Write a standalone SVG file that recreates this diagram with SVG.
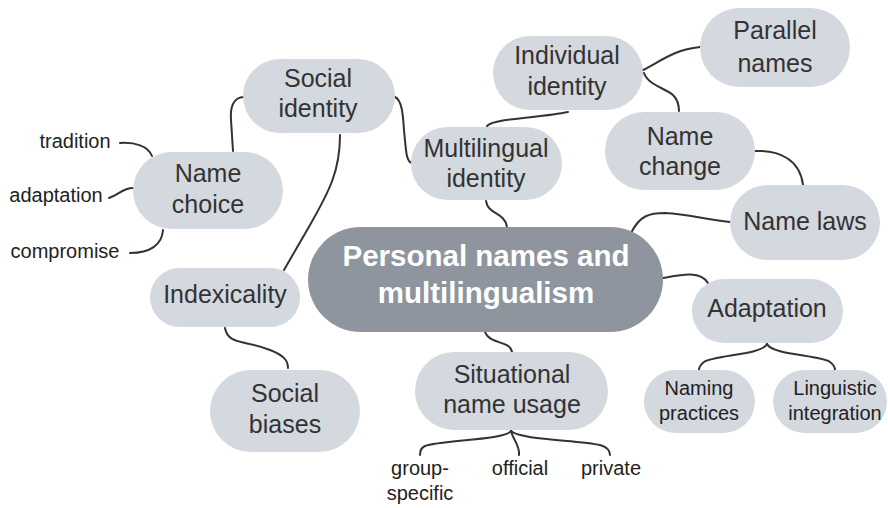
<svg xmlns="http://www.w3.org/2000/svg" width="888" height="508" viewBox="0 0 888 508">
  <style>
    .node { fill: #d4d8df; }
    .hub { fill: #8f959f; }
    .t { font-family: "Liberation Sans", Arial, sans-serif; font-size: 25px; fill: #333333; text-anchor: middle; }
    .s { font-family: "Liberation Sans", Arial, sans-serif; font-size: 20px; fill: #222222; text-anchor: middle; }
    .ht { font-family: "Liberation Sans", Arial, sans-serif; font-size: 29.5px; font-weight: bold; fill: #ffffff; text-anchor: middle; }
    .link { fill: none; stroke: #333333; stroke-width: 2; stroke-linecap: round; }
  </style>
  <rect width="888" height="508" fill="#ffffff"/>

  <g id="connectors">
    <path class="link" d="M244,97 C233,97 230,108 231,120 L233,151"/>
    <path class="link" d="M395,97 C402,100 403,115 404,130 C406,150 406,162 412,163"/>
    <path class="link" d="M340,135 C340,170 330,190 310,225 L284,270"/>
    <path class="link" d="M120,143 C135,142 148,146 152,156"/>
    <path class="link" d="M109,198 C118,195 123,188 133,188"/>
    <path class="link" d="M130,253 C150,253 162,245 163,230"/>
    <path class="link" d="M225,328 C228,345 245,340 270,350 C283,355 288,360 288,368"/>
    <path class="link" d="M487,126 C495,118 540,118 568,112"/>
    <path class="link" d="M643,70 C660,62 672,50 700,47"/>
    <path class="link" d="M644,73 C648,85 665,88 673,95 C678,100 679,105 679,111"/>
    <path class="link" d="M755,151 C780,150 800,160 803,185"/>
    <path class="link" d="M631,233 C640,215 650,213 665,213 C690,214 705,220 730,222"/>
    <path class="link" d="M663,278 C680,275 700,270 708,283"/>
    <path class="link" d="M486,201 C488,215 505,212 507,227"/>
    <path class="link" d="M485,332 C490,345 510,340 512,352"/>
    <path class="link" d="M511,431 C505,440 440,440 425,446 C420,448 420,452 420,455"/>
    <path class="link" d="M511,431 C513,440 520,445 519,455"/>
    <path class="link" d="M511,431 C520,440 580,440 600,445 C607,447 610,450 610,455"/>
    <path class="link" d="M767,344 C762,355 715,355 704,362 C700,365 699,367 699,370"/>
    <path class="link" d="M767,344 C772,355 820,355 830,362 C834,365 835,367 835,370"/>
  </g>

  <g id="hub">
    <rect class="hub" x="308" y="227" width="355" height="105" rx="52.5"/>
    <text class="ht" x="486" y="266">Personal names and</text>
    <text class="ht" x="486" y="303">multilingualism</text>
  </g>

  <g id="social-identity">
    <rect class="node" x="243" y="59" width="152" height="74" rx="37"/>
    <text class="t" x="318" y="87">Social</text>
    <text class="t" x="318" y="117">identity</text>
  </g>

  <g id="name-choice">
    <rect class="node" x="133" y="152" width="150" height="77" rx="38.5"/>
    <text class="t" x="208" y="182">Name</text>
    <text class="t" x="208" y="213">choice</text>
  </g>

  <g id="tradition">
    <text class="s" x="75" y="148">tradition</text>
  </g>
  <g id="adaptation-choice">
    <text class="s" x="56" y="202">adaptation</text>
  </g>
  <g id="compromise">
    <text class="s" x="65" y="258">compromise</text>
  </g>

  <g id="indexicality">
    <rect class="node" x="150" y="268" width="150" height="59" rx="29.5"/>
    <text class="t" x="225" y="303">Indexicality</text>
  </g>

  <g id="social-biases">
    <rect class="node" x="210" y="370" width="150" height="82" rx="41"/>
    <text class="t" x="285" y="402">Social</text>
    <text class="t" x="285" y="433">biases</text>
  </g>

  <g id="multilingual-identity">
    <rect class="node" x="411" y="127" width="151" height="73" rx="36.5"/>
    <text class="t" x="486" y="157">Multilingual</text>
    <text class="t" x="486" y="187">identity</text>
  </g>

  <g id="individual-identity">
    <rect class="node" x="493" y="36" width="150" height="74" rx="37"/>
    <text class="t" x="567" y="64">Individual</text>
    <text class="t" x="567" y="95">identity</text>
  </g>

  <g id="parallel-names">
    <rect class="node" x="700" y="8" width="150" height="79" rx="39.5"/>
    <text class="t" x="775" y="39">Parallel</text>
    <text class="t" x="775" y="72">names</text>
  </g>

  <g id="name-change">
    <rect class="node" x="605" y="112" width="150" height="78" rx="39"/>
    <text class="t" x="680" y="145">Name</text>
    <text class="t" x="680" y="175">change</text>
  </g>

  <g id="name-laws">
    <rect class="node" x="730" y="185" width="150" height="75" rx="37.5"/>
    <text class="t" x="805" y="230">Name laws</text>
  </g>

  <g id="adaptation">
    <rect class="node" x="692" y="279" width="151" height="64" rx="32"/>
    <text class="t" x="767" y="317">Adaptation</text>
  </g>

  <g id="naming-practices">
    <rect class="node" x="644" y="370" width="111" height="63" rx="31.5"/>
    <text class="s" x="699" y="395">Naming</text>
    <text class="s" x="699" y="420">practices</text>
  </g>

  <g id="linguistic-integration">
    <rect class="node" x="773" y="370" width="114" height="63" rx="31.5"/>
    <text class="s" x="835" y="395">Linguistic</text>
    <text class="s" x="835" y="420">integration</text>
  </g>

  <g id="situational-name-usage">
    <rect class="node" x="415" y="352" width="193" height="78" rx="39"/>
    <text class="t" x="512" y="383">Situational</text>
    <text class="t" x="512" y="413">name usage</text>
  </g>

  <g id="group-specific">
    <text class="s" x="420" y="475">group-</text>
    <text class="s" x="420" y="500">specific</text>
  </g>
  <g id="official">
    <text class="s" x="520" y="475">official</text>
  </g>
  <g id="private">
    <text class="s" x="611" y="475">private</text>
  </g>
</svg>
